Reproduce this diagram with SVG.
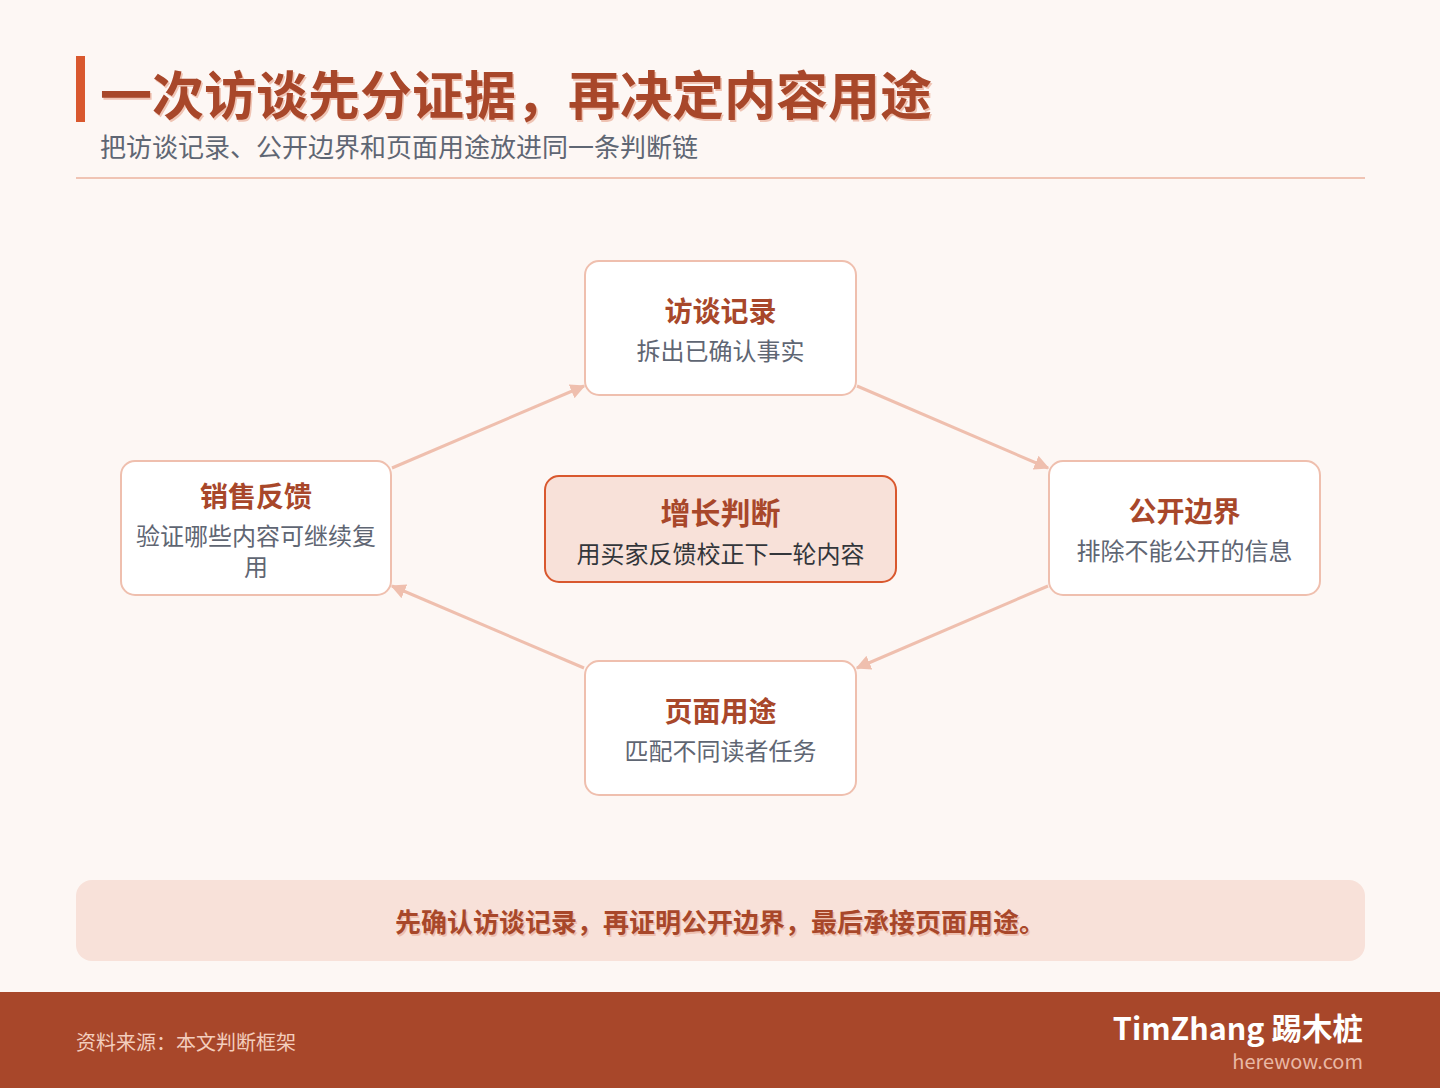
<svg xmlns="http://www.w3.org/2000/svg" width="1440" height="1088" viewBox="0 0 1440 1088">
<defs>
<style>
text{font-family:"Noto Sans CJK SC","Noto Sans",sans-serif}
.node{fill:#ffffff;stroke:#efbfae;stroke-width:2}
.nt{font-size:28px;font-weight:700;fill:#a8472a;text-anchor:middle}
.nd{font-size:24px;fill:#5f6673;text-anchor:middle}
.conn{stroke:#efbfae;stroke-width:3;fill:none;marker-end:url(#arr)}
</style>
<marker id="arr" viewBox="0 0 10 10" refX="9" refY="5" markerWidth="5" markerHeight="5" orient="auto" markerUnits="strokeWidth">
<path d="M0,0 L10,5 L0,10 z" fill="#efbfae"/>
</marker>
</defs>
<rect x="0" y="0" width="1440" height="1088" fill="#fdf7f4"/>
<g id="header">
<rect x="76" y="56" width="9" height="66" fill="#d9582e"/>
<text x="101.5" y="116.5" font-size="52" font-weight="700" fill="#efc3b3">一次访谈先分证据，再决定内容用途</text>
<text x="100" y="115" font-size="52" font-weight="700" fill="#a8472a">一次访谈先分证据，再决定内容用途</text>
<text x="100" y="157" font-size="26" fill="#5f6673">把访谈记录、公开边界和页面用途放进同一条判断链</text>
<rect x="76" y="177" width="1289" height="2" fill="#f0c4b4"/>
</g>
<g id="connectors">
<line class="conn" x1="392" y1="468" x2="584" y2="386"/>
<line class="conn" x1="857" y1="386" x2="1048" y2="468"/>
<line class="conn" x1="1048" y1="586" x2="857" y2="668"/>
<line class="conn" x1="584" y1="668" x2="392" y2="586"/>
</g>
<g id="node-interview">
<rect class="node" x="585" y="261" width="271" height="134" rx="14"/>
<text class="nt" x="720.5" y="322">访谈记录</text>
<text class="nd" x="720.5" y="360">拆出已确认事实</text>
</g>
<g id="node-sales">
<rect class="node" x="121" y="461" width="270" height="134" rx="14"/>
<text class="nt" x="256" y="507">销售反馈</text>
<text class="nd" x="256" y="545">验证哪些内容可继续复</text>
<text class="nd" x="256" y="576">用</text>
</g>
<g id="node-center">
<rect x="545" y="476" width="351" height="106" rx="14" fill="#f8e1d9" stroke="#d9582e" stroke-width="2"/>
<text x="720.5" y="524" font-size="30" font-weight="700" fill="#a8472a" text-anchor="middle">增长判断</text>
<text x="720.5" y="563" font-size="24" fill="#33363b" text-anchor="middle">用买家反馈校正下一轮内容</text>
</g>
<g id="node-boundary">
<rect class="node" x="1049" y="461" width="271" height="134" rx="14"/>
<text class="nt" x="1184.5" y="522">公开边界</text>
<text class="nd" x="1184.5" y="560">排除不能公开的信息</text>
</g>
<g id="node-page">
<rect class="node" x="585" y="661" width="271" height="134" rx="14"/>
<text class="nt" x="720.5" y="722">页面用途</text>
<text class="nd" x="720.5" y="760">匹配不同读者任务</text>
</g>
<g id="summary">
<rect x="76" y="880" width="1289" height="81" rx="16" fill="#f8e1d9"/>
<text x="721.5" y="933.5" font-size="26" font-weight="700" fill="#eec0b0" text-anchor="middle">先确认访谈记录，再证明公开边界，最后承接页面用途。</text>
<text x="720" y="932" font-size="26" font-weight="700" fill="#a8472a" text-anchor="middle">先确认访谈记录，再证明公开边界，最后承接页面用途。</text>
</g>
<g id="footer">
<rect x="0" y="992" width="1440" height="96" fill="#a8472a"/>
<text x="76" y="1050" font-size="20" fill="#f3cdbd">资料来源：本文判断框架</text>
<text x="1363" y="1040" font-size="30.5" font-weight="700" fill="#ffffff" text-anchor="end">TimZhang 踢木桩</text>
<text x="1363" y="1069" font-size="20" fill="#e8b8a5" text-anchor="end">herewow.com</text>
</g>
</svg>
